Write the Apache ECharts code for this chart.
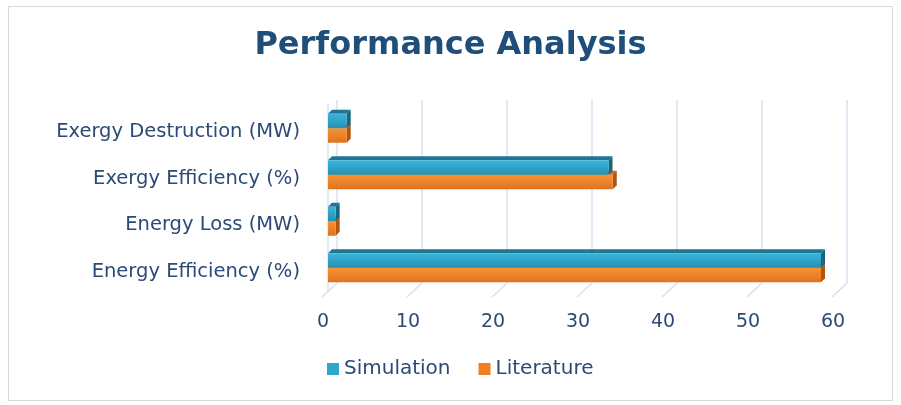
<!DOCTYPE html>
<html><head><meta charset="utf-8">
<script src="https://cdn.jsdelivr.net/npm/echarts@6/dist/echarts.min.js"></script>
<style>html,body{margin:0;padding:0;background:#fff}#c{width:901px;height:405px}</style>
</head><body><div id="c"></div>
<script>
const categories = ['Energy Efficiency (%)', 'Energy Loss (MW)', 'Exergy Efficiency (%)', 'Exergy Destruction (MW)'];
const simulation = [58.0, 0.9, 33.0, 2.2];
const literature = [58.0, 0.9, 33.5, 2.2];
const xTicks = [0, 10, 20, 30, 40, 50, 60];

const chart = echarts.init(document.getElementById('c'));
const font = 'DejaVu Sans, sans-serif';
const textColor = '#2c4a76';

function grad(top, bot) {
  return new echarts.graphic.LinearGradient(0, 0, 0, 1, [
    {offset: 0, color: top}, {offset: 1, color: bot}
  ]);
}

function barRenderer(pos, front1, front2, topC, sideC) {
  return function (params, api) {
    const v = api.value(0), cat = api.value(1);
    const s = api.coord([0, cat]);
    const e = api.coord([v, cat]);
    const h = 14.5, d = 4;
    const x0 = s[0] - 2, x1 = e[0] - 2;
    const y0 = pos === 'top' ? s[1] - h : s[1];
    const y1 = y0 + h;
    return {
      type: 'group',
      children: [
        {type: 'polygon', shape: {points: [[x0, y0], [x0 + d, y0 - d], [x1 + d, y0 - d], [x1, y0]]}, style: {fill: topC}},
        {type: 'polygon', shape: {points: [[x1, y0], [x1 + d, y0 - d], [x1 + d, y1 - d], [x1, y1]]}, style: {fill: sideC}},
        {type: 'rect', shape: {x: x0, y: y0, width: x1 - x0, height: h}, style: {fill: grad(front1, front2)}}
      ]
    };
  };
}

chart.setOption({
  animation: false,
  backgroundColor: '#fff',
  graphic: [{type: 'rect', shape: {x: 8.5, y: 6.5, width: 884, height: 394}, style: {fill: 'none', stroke: '#d9d9d9', lineWidth: 1}}],
  title: {
    text: 'Performance Analysis', left: 'center', top: 25,
    textStyle: {fontFamily: font, fontSize: 32, fontWeight: 'bold', color: '#1f4e79'}
  },
  legend: {
    data: [
      {name: 'Simulation', itemStyle: {color: '#2fa6cb'}},
      {name: 'Literature', itemStyle: {color: '#f07f22'}}
    ],
    bottom: 21, left: 322,
    itemWidth: 12, itemHeight: 12, itemGap: 28, icon: 'rect',
    textStyle: {fontFamily: font, fontSize: 20, color: textColor}
  },
  grid: {left: 330, right: 61, top: 105, bottom: 114},
  xAxis: {
    type: 'value', min: 0, max: 60, interval: 10,
    axisLine: {show: false}, axisTick: {show: false}, splitLine: {show: false},
    axisLabel: {margin: 22, fontFamily: font, fontSize: 19, color: textColor,
      padding: [0, 14, 0, 0],
      formatter: v => xTicks.includes(v) ? String(v) : ''}
  },
  yAxis: {
    type: 'category', data: categories,
    axisLine: {show: false}, axisTick: {show: false},
    axisLabel: {margin: 30, fontFamily: font, fontSize: 19.5, color: textColor,
      verticalAlign: 'top', lineHeight: 8}
  },
  series: [
    {
      name: 'grid', type: 'custom', silent: true, z: 1,
      data: xTicks.map(v => [v, 0]),
      encode: {x: 0, y: 1},
      renderItem: function (params, api) {
        const cs = params.coordSys;
        const p = api.coord([api.value(0), 0]);
        const top = cs.y - 5, bot = cs.y + cs.height - 8;
        const children = [
          {type: 'line', shape: {x1: p[0] + 7, y1: top, x2: p[0] + 7, y2: bot}, style: {stroke: '#d6e0ef', lineWidth: 1.5}},
          {type: 'line', shape: {x1: p[0] + 7, y1: bot, x2: p[0] - 8, y2: bot + 14}, style: {stroke: '#d6e0ef', lineWidth: 1.5}}
        ];
        if (params.dataIndex === 0) {
          children.push({type: 'line', shape: {x1: p[0] - 2, y1: top + 4, x2: p[0] - 2, y2: bot + 8}, style: {stroke: '#d6e0ef', lineWidth: 1.5}});
        }
        return {type: 'group', children: children};
      }
    },
    {
      name: 'Simulation', type: 'custom', z: 3,
      data: simulation.map((v, i) => [v, i]),
      encode: {x: 0, y: 1},
      itemStyle: {color: '#2fa6cb'},
      renderItem: barRenderer('top', '#3ab5da', '#2590b3', '#1f7594', '#1a6580')
    },
    {
      name: 'Literature', type: 'custom', z: 2,
      data: literature.map((v, i) => [v, i]),
      encode: {x: 0, y: 1},
      itemStyle: {color: '#f07f22'},
      renderItem: barRenderer('bottom', '#fb9232', '#de7320', '#c9661a', '#b0560f')
    }
  ]
});
</script></body></html>
